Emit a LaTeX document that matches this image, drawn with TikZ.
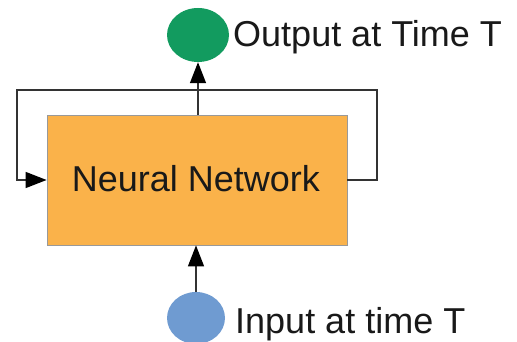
\documentclass[tikz,border=0pt]{standalone}
\usepackage{fontspec}
\setmainfont{Liberation Sans}
\usetikzlibrary{arrows.meta,shapes.geometric}
\definecolor{nnorange}{HTML}{FAB24A}
\definecolor{outgreen}{HTML}{129B5F}
\definecolor{inblue}{HTML}{6F9BD1}
\definecolor{linegray}{HTML}{333333}
\begin{document}
\begin{tikzpicture}[x=1pt,y=-1pt,
  conn/.style={draw=linegray,line width=1.4pt},
  arr/.style={conn,-{Triangle[width=16pt,length=21pt,color=black]}},
  lbl/.style={font=\fontsize{36}{40}\selectfont,text=black!90,inner sep=0pt}]
\useasboundingbox (0,0) rectangle (517,342);
\node[draw=gray!80,line width=0.8pt,fill=nnorange,minimum width=300pt,minimum height=130pt,inner sep=0pt] (nn) at (197,180) {};
\node[lbl,anchor=base] (nntext) at (196,192) {Neural Network};
\node[ellipse,fill=outgreen,minimum width=62pt,minimum height=54pt,inner sep=0pt] (out) at (198,35) {};
\node[ellipse,fill=inblue,minimum width=58pt,minimum height=52pt,inner sep=0pt] (in) at (196,318) {};
\node[lbl,anchor=base west] (outlbl) at (233,47) {Output at Time T};
\node[lbl,anchor=base west] (inlbl) at (235,333) {Input at time T};
\coordinate (tl) at (17,90);
\coordinate (tr) at (377,90);
\coordinate (bl) at (17,180);
\coordinate (br) at (377,180);
\coordinate (nntop) at (198,115);
\draw[arr] (nntop) -- (out.south);
\draw[arr] (in.north) -- (in.north |- nn.south);
\draw[arr] (nn.east) -- (br) -- (tr) -- (tl) -- (bl) -- (nn.west);
\end{tikzpicture}
\end{document}
